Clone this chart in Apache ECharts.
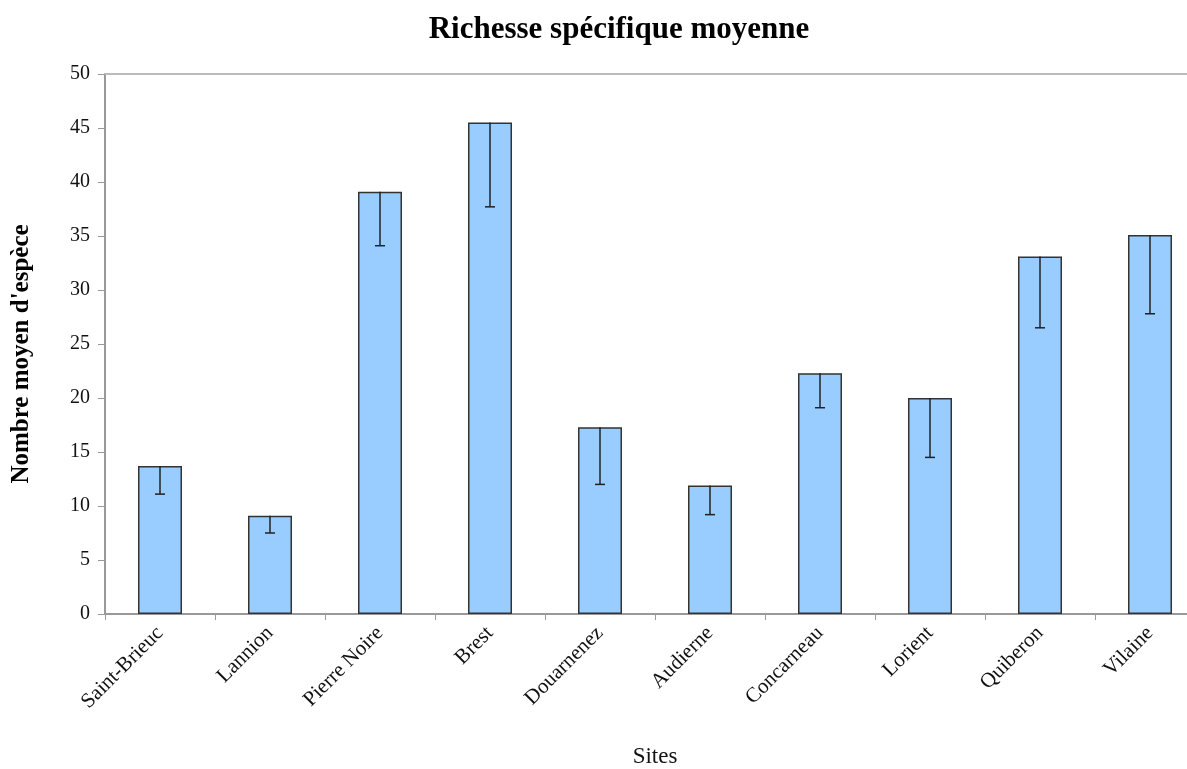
<!DOCTYPE html>
<html><head><meta charset="utf-8">
<script src="https://cdn.jsdelivr.net/npm/echarts@6/dist/echarts.min.js"></script>
<style>html,body{margin:0;padding:0;background:#fff}#c{width:1187px;height:769px}</style>
</head><body><div id="c"></div>
<script>
const categories = ["Saint-Brieuc","Lannion","Pierre Noire","Brest","Douarnenez","Audierne","Concarneau","Lorient","Quiberon","Vilaine"];
const means = [13.7, 9.1, 39.1, 45.5, 17.3, 11.9, 22.3, 20.0, 33.1, 35.1];
const lowerBounds = [11.1, 7.5, 34.1, 37.7, 12.0, 9.2, 19.1, 14.5, 26.5, 27.8];
const yTicks = [0,5,10,15,20,25,30,35,40,45,50];

const serif = "'Liberation Serif', 'DejaVu Serif', serif";
const chart = echarts.init(document.getElementById('c'));
const errData = categories.map((c,i)=>[i, means[i], lowerBounds[i]]);
chart.setOption({
  animation:false,
  title:{text:'Richesse spécifique moyenne', left:614, top:9, textAlign:'center',
    textStyle:{fontFamily:serif, fontWeight:'bold', fontSize:31, color:'#000'}},
  grid:{left:105, top:74, height:540, width:1100, containLabel:false, outerBoundsMode:'none'},
  xAxis:[{type:'category', data:categories,
    axisLine:{lineStyle:{color:'#999', width:2}},
    axisTick:{show:true, length:6, lineStyle:{color:'#999'}},
    axisLabel:{rotate:45, fontFamily:serif, fontSize:21, color:'#111', margin:16},
    name:'Sites', nameLocation:'middle', nameGap:131,
    nameTextStyle:{fontFamily:serif, fontSize:23, color:'#111'}
  },{type:'category', data:categories, position:'top',
    axisLine:{lineStyle:{color:'#bbb', width:2}}, axisTick:{show:false}, axisLabel:{show:false}}],
  yAxis:{type:'value', min:0, max:50, interval:5,
    axisLine:{show:true, lineStyle:{color:'#999', width:2}},
    axisTick:{show:true, length:7, lineStyle:{color:'#999'}},
    splitLine:{show:false},
    axisLabel:{fontFamily:serif, fontSize:20, color:'#111', margin:15,
      formatter:v=>yTicks.includes(v)?String(v):''},
    name:"Nombre moyen d'espèce", nameLocation:'middle', nameGap:71,
    nameTextStyle:{fontFamily:serif, fontWeight:'bold', fontSize:25, color:'#000', padding:[0,20,0,0]}
  },
  series:[{type:'bar', data:means, barWidth:'40%',
    itemStyle:{color:'#99CCFF', borderColor:'#333', borderWidth:1.5}},
  {type:'custom', data:errData, z:10,
    renderItem:(params, api)=>{
      const x=api.value(0);
      const top=api.coord([x, api.value(1)]);
      const bot=api.coord([x, api.value(2)]);
      const w=10;
      return {type:'group', children:[
        {type:'line', shape:{x1:top[0],y1:top[1],x2:bot[0],y2:bot[1]}, style:{stroke:'#222', lineWidth:1.5}},
        {type:'line', shape:{x1:bot[0]-w/2,y1:bot[1],x2:bot[0]+w/2,y2:bot[1]}, style:{stroke:'#222', lineWidth:1.5}}
      ]};
    }}]
});
</script></body></html>
